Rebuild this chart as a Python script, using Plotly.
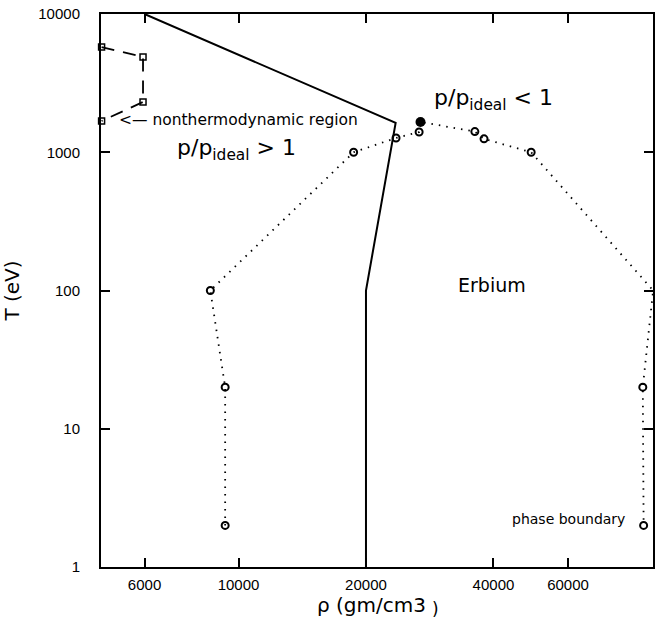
import plotly.graph_objects as go

# Phase boundary (solid line)
bound_rho = [6000, 23500, 20000, 20000]
bound_T = [10000, 1630, 100, 1]

# Dotted curve, left branch (open circles)
left_rho = [9300, 9300, 8580, 18700, 23550, 26700]
left_T = [2, 20, 100, 1000, 1268, 1400]

# Critical point (filled)
crit_rho = [26900]
crit_T = [1656]

# Dotted curve, right branch (open circles)
right_rho = [36150, 38000, 49100, 95300, 90100, 90500]
right_T = [1410, 1250, 1000, 100, 20, 2]

# Nonthermodynamic region (dashed, squares)
nt_rho = [4750, 5950, 5950, 4750]
nt_T = [5770, 4886, 2310, 1683]

x_ticks = [6000, 10000, 20000, 40000, 60000]
y_ticks = [1, 10, 100, 1000, 10000]

fig = go.Figure()
fig.add_trace(go.Scatter(x=bound_rho, y=bound_T, mode="lines",
                         line=dict(color="black", width=2), showlegend=False))
fig.add_trace(go.Scatter(x=left_rho + crit_rho + right_rho, y=left_T + crit_T + right_T,
                         mode="lines", line=dict(color="black", width=1.8, dash="1.5px,6px"),
                         showlegend=False))
fig.add_trace(go.Scatter(x=left_rho + right_rho, y=left_T + right_T, mode="markers",
                         marker=dict(symbol="circle-open", size=7, color="black",
                                     line=dict(width=2, color="black")),
                         cliponaxis=False, showlegend=False))
fig.add_trace(go.Scatter(x=crit_rho, y=crit_T, mode="markers",
                         marker=dict(symbol="circle", size=10, color="black"),
                         showlegend=False))
fig.add_trace(go.Scatter(x=nt_rho, y=nt_T, mode="lines+markers",
                         line=dict(color="black", width=1.8, dash="13px,9px"),
                         marker=dict(symbol="square-open", size=6, color="black",
                                     line=dict(width=1.5, color="black")),
                         cliponaxis=False, showlegend=False))

afont = dict(family="DejaVu Sans", color="black")
fig.add_annotation(x=3.7133, y=3.233, xref="x", yref="y", xanchor="left", yanchor="middle",
                   text="&lt;— nonthermodynamic region", showarrow=False,
                   font=dict(afont, size=15.5))
fig.add_annotation(x=3.849, y=3.02, xref="x", yref="y", xanchor="left", yanchor="middle",
                   text="p/p<sub>ideal</sub> &gt; 1", showarrow=False,
                   font=dict(afont, size=22))
fig.add_annotation(x=4.4565, y=3.385, xref="x", yref="y", xanchor="left", yanchor="middle",
                   text="p/p<sub>ideal</sub> &lt; 1", showarrow=False,
                   font=dict(afont, size=22))
fig.add_annotation(x=4.5976, y=2.04, xref="x", yref="y", xanchor="center", yanchor="middle",
                   text="Erbium", showarrow=False, font=dict(afont, size=19))
fig.add_annotation(x=4.779, y=0.347, xref="x", yref="y", xanchor="center", yanchor="middle",
                   text="phase boundary", showarrow=False, font=dict(afont, size=14))
# x-axis title (closing parenthesis drawn lower, as in the original)
fig.add_annotation(x=0.490, y=-0.0685, xref="paper", yref="paper", xanchor="center",
                   yanchor="middle", text="ρ (gm/cm3", showarrow=False,
                   font=dict(afont, size=20))
fig.add_annotation(x=0.6065, y=-0.0765, xref="paper", yref="paper", xanchor="center",
                   yanchor="middle", text=")", showarrow=False,
                   font=dict(afont, size=17))

tfont = dict(family="Liberation Sans", color="black", size=15)
fig.update_layout(
    width=656, height=619,
    margin=dict(l=101, r=1, t=14, b=52),
    plot_bgcolor="white", paper_bgcolor="white",
    font=dict(family="Liberation Sans", color="black", size=15),
)
fig.update_xaxes(type="log", range=[3.6753, 4.9788], tickvals=x_ticks,
                 ticktext=[str(v) for v in x_ticks], tickfont=tfont,
                 ticks="inside", ticklen=9, tickwidth=1.5, tickcolor="black",
                 showline=True, linewidth=2, linecolor="black", mirror="allticks",
                 showgrid=False, zeroline=False, ticklabelstandoff=3)
fig.update_yaxes(type="log", range=[0, 4], tickvals=y_ticks,
                 ticktext=[str(v) for v in y_ticks], tickfont=tfont,
                 ticks="inside", ticklen=9, tickwidth=1.5, tickcolor="black",
                 showline=True, linewidth=2, linecolor="black", mirror="allticks",
                 showgrid=False, zeroline=False, ticklabelstandoff=16,
                 title=dict(text="T (eV)", font=dict(family="DejaVu Sans", size=20),
                            standoff=16))

fig.write_html("out.html")
